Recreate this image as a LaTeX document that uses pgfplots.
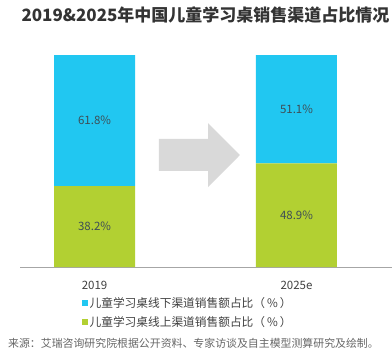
\documentclass[border=0pt]{standalone}
\usepackage{pgfplots}
\pgfplotsset{compat=1.18}
\usepackage{fontspec}
\setmainfont{Noto Sans CJK SC}
\definecolor{cyanbar}{RGB}{33,199,241}
\definecolor{greenbar}{RGB}{178,208,50}
\definecolor{arrowgray}{RGB}{217,217,217}
\definecolor{txt}{RGB}{64,64,64}
\definecolor{lbl}{RGB}{62,78,86}
\pgfplotsset{base/.style={
  at={(0pt,0pt)}, anchor=south west,
  scale only axis,
  width=372pt, height=212pt,
  xmin=-0.369, xmax=1.473, ymin=0, ymax=100,
  clip=false}}
\begin{document}
\begin{tikzpicture}
\path[use as bounding box] (-20pt,-90pt) rectangle (372pt,267pt);
\begin{axis}[
  base,
  ybar stacked, bar width=81pt,
  axis x line=bottom, axis y line=none,
  axis line style={-, draw=gray!70, line width=0.9pt},
  xtick={0,1}, xticklabels={2019,2025e},
  major tick length=0pt,
  xticklabel style={font=\fontsize{11.5}{13}\selectfont, text=txt, yshift=-11pt},
  ytick=\empty,
  legend style={at={(0.157,-0.125)}, anchor=north west, draw=none, fill=none,
    font=\fontsize{11.7}{13}\selectfont, text=txt, row sep=3pt,
    /tikz/every even column/.append style={column sep=1pt}},
  legend cell align=left,
  reverse legend,
  legend image code/.code={\fill[#1] (0pt,-3pt) rectangle (6pt,3pt);},
]
\addplot[fill=greenbar, draw=none] coordinates {(0,38.2) (1,48.9)};
\addlegendentry{儿童学习桌线上渠道销售额占比（\,\%\,）}
\addplot[fill=cyanbar, draw=none] coordinates {(0,61.8) (1,51.1)};
\addlegendentry{儿童学习桌线下渠道销售额占比（\,\%\,）}
\fill[arrowgray] (axis cs:0.319,45.3) -- (axis cs:0.562,45.3) -- (axis cs:0.562,37.7) -- (axis cs:0.720,52.8) -- (axis cs:0.562,67.9) -- (axis cs:0.562,60.4) -- (axis cs:0.319,60.4) -- cycle;
\end{axis}
\begin{axis}[
  base, hide axis,
  nodes near coords, point meta=explicit symbolic,
  every node near coord/.append style={anchor=center, font=\fontsize{11.5}{13}\selectfont, text=lbl},
]
\addplot[only marks, mark=none] coordinates {(0,19.1) [38.2\%] (1,24.45) [48.9\%] (0,69.1) [61.8\%] (1,74.45) [51.1\%]};
\end{axis}
\node[font=\fontsize{17}{20}\selectfont\bfseries, text=black!80, anchor=center] at (185.5pt,252pt) {2019\&2025年中国儿童学习桌销售渠道占比情况};
\node[font=\fontsize{10.9}{12}\selectfont, text=black!60, anchor=west, inner sep=0pt] at (-12pt,-76pt) {来源：艾瑞咨询研究院根据公开资料、专家访谈及自主模型测算研究及绘制。};
\end{tikzpicture}
\end{document}
